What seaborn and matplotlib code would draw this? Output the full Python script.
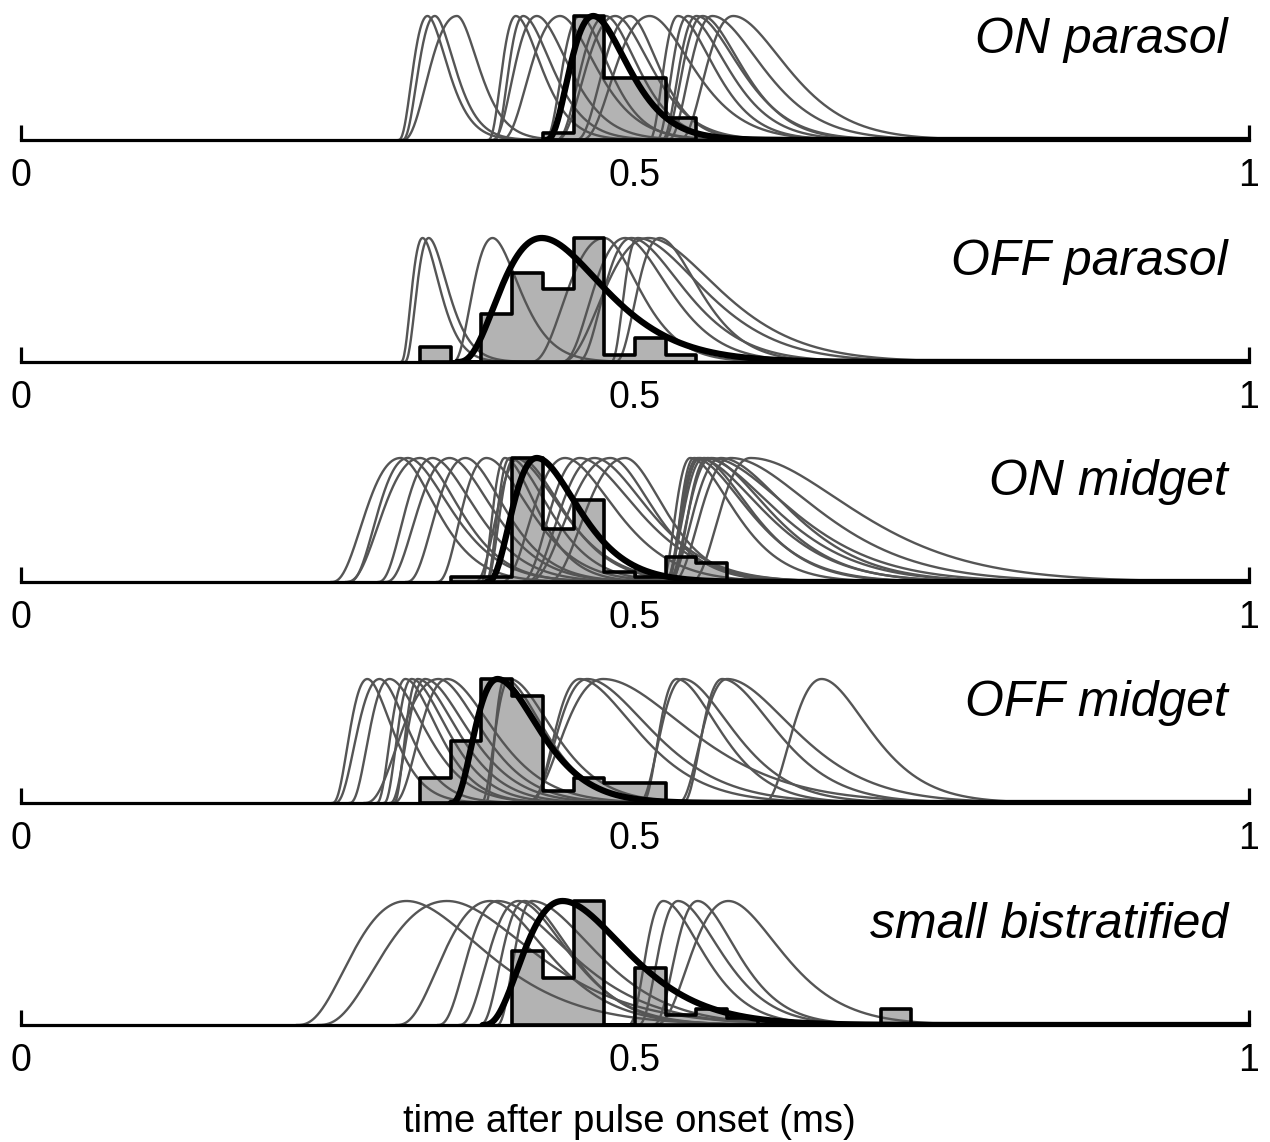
import numpy as np
import pandas as pd
import matplotlib
matplotlib.use('Agg')
import matplotlib.pyplot as plt
import seaborn as sns

# --- data (time in ms, curves normalised to peak 1) ---
cell_types = ["ON parasol", "OFF parasol", "ON midget", "OFF midget", "small bistratified"]

bin_width = 0.025

# histograms: left edge of first bin + normalised bin heights
on_parasol_hist_start = 0.425
on_parasol_hist = [0.056, 1.0, 0.5, 0.5, 0.18]
off_parasol_hist_start = 0.325
off_parasol_hist = [0.12, 0.0, 0.39, 0.72, 0.59, 1.0, 0.06, 0.19, 0.06]
on_midget_hist_start = 0.35
on_midget_hist = [0.04, 0.04, 1.0, 0.43, 0.66, 0.08, 0.04, 0.2, 0.15]
off_midget_hist_start = 0.325
off_midget_hist = [0.2, 0.5, 1.0, 0.86, 0.1, 0.2, 0.16, 0.16]
sbc_hist_start = 0.4
sbc_hist = [0.6, 0.38, 1.0, 0.0, 0.46, 0.08, 0.13, 0.06, 0.0, 0.0, 0.0, 0.0, 0.13]

# individual cells: peak time, rise time, decay width
on_parasol_peaks = [0.331, 0.337, 0.355, 0.403, 0.409, 0.420, 0.439, 0.455, 0.476,
                    0.484, 0.496, 0.512, 0.535, 0.543, 0.550, 0.555, 0.563, 0.580]
on_parasol_rises = [0.024, 0.027, 0.045, 0.023, 0.024, 0.037, 0.049, 0.029, 0.041,
                    0.049, 0.045, 0.057, 0.024, 0.026, 0.029, 0.033, 0.037, 0.045]
on_parasol_falls = [0.023, 0.023, 0.025, 0.029, 0.033, 0.037, 0.041, 0.033, 0.037,
                    0.041, 0.033, 0.049, 0.041, 0.045, 0.049, 0.045, 0.057, 0.061]

off_parasol_peaks = [0.327, 0.332, 0.384, 0.475, 0.492, 0.497, 0.502, 0.511, 0.520]
off_parasol_rises = [0.018, 0.020, 0.033, 0.061, 0.053, 0.045, 0.022, 0.073, 0.037]
off_parasol_falls = [0.020, 0.022, 0.031, 0.040, 0.050, 0.060, 0.075, 0.080, 0.045]

on_midget_peaks = [0.309, 0.315, 0.325, 0.335, 0.349, 0.362, 0.379, 0.394, 0.398,
                   0.402, 0.406, 0.443, 0.455, 0.467, 0.480, 0.492, 0.545, 0.548,
                   0.551, 0.553, 0.556, 0.559, 0.562, 0.570, 0.578, 0.594]
on_midget_rises = [0.057, 0.049, 0.061, 0.045, 0.053, 0.049, 0.041, 0.020, 0.020,
                   0.024, 0.037, 0.053, 0.049, 0.057, 0.069, 0.065, 0.024, 0.022,
                   0.027, 0.029, 0.033, 0.031, 0.037, 0.045, 0.049, 0.050]
on_midget_falls = [0.041, 0.049, 0.045, 0.049, 0.049, 0.045, 0.049, 0.037, 0.045,
                   0.053, 0.049, 0.057, 0.065, 0.061, 0.049, 0.045, 0.049, 0.061,
                   0.073, 0.057, 0.081, 0.069, 0.090, 0.077, 0.098, 0.116]

off_midget_peaks = [0.282, 0.292, 0.300, 0.313, 0.318, 0.323, 0.329, 0.340, 0.347, 0.394,
                    0.398, 0.455, 0.461, 0.474, 0.534, 0.539, 0.571, 0.575, 0.652]
off_midget_rises = [0.029, 0.037, 0.033, 0.024, 0.023, 0.020, 0.029, 0.061, 0.045, 0.016,
                    0.024, 0.041, 0.049, 0.065, 0.029, 0.037, 0.033, 0.041, 0.049]
off_midget_falls = [0.029, 0.033, 0.041, 0.037, 0.041, 0.045, 0.049, 0.049, 0.053, 0.045,
                    0.049, 0.065, 0.073, 0.098, 0.049, 0.057, 0.061, 0.077, 0.055]

sbc_peaks = [0.314, 0.347, 0.382, 0.388, 0.405, 0.410, 0.416, 0.523, 0.535, 0.551, 0.576]
sbc_rises = [0.090, 0.106, 0.077, 0.049, 0.049, 0.037, 0.029, 0.029, 0.033, 0.037, 0.061]
sbc_falls = [0.090, 0.098, 0.065, 0.081, 0.057, 0.053, 0.073, 0.045, 0.049, 0.045, 0.061]

# population fits: peak, rise, decay
on_parasol_fit = [0.466, 0.039, 0.040]
off_parasol_fit = [0.424, 0.069, 0.072]
on_midget_fit = [0.420, 0.041, 0.048]
off_midget_fit = [0.388, 0.038, 0.048]
sbc_fit = [0.441, 0.065, 0.074]

panels = [
    (cell_types[0], on_parasol_hist_start, on_parasol_hist, on_parasol_peaks, on_parasol_rises, on_parasol_falls, on_parasol_fit),
    (cell_types[1], off_parasol_hist_start, off_parasol_hist, off_parasol_peaks, off_parasol_rises, off_parasol_falls, off_parasol_fit),
    (cell_types[2], on_midget_hist_start, on_midget_hist, on_midget_peaks, on_midget_rises, on_midget_falls, on_midget_fit),
    (cell_types[3], off_midget_hist_start, off_midget_hist, off_midget_peaks, off_midget_rises, off_midget_falls, off_midget_fit),
    (cell_types[4], sbc_hist_start, sbc_hist, sbc_peaks, sbc_rises, sbc_falls, sbc_fit),
]


def bump(t, peak, rise, fall, k=3.0):
    # gamma-like pulse, separate widths before and after the peak
    w = np.where(t < peak, rise, fall)
    x = np.clip(1 + (t - peak) / w, 0, None)
    return x ** k * np.exp(k * (1 - x))


sns.set_style("white")
plt.rcParams['font.family'] = ['Liberation Sans', 'DejaVu Sans']
plt.rcParams['text.color'] = 'black'

W, H = 1270, 1142
baselines = [140, 362, 582, 803, 1025]
unit_px = 124
ymax = 1.06
t = np.linspace(0, 1, 2001)

fig = plt.figure(figsize=(W / 100, H / 100), dpi=100)

for i, (name, start, hist, peaks, rises, falls, fit) in enumerate(panels):
    b = baselines[i]
    ax = fig.add_axes([21 / W, (H - b) / H, 1228 / W, unit_px * ymax / H])
    ax.patch.set_alpha(0)

    n_bins = len(hist)
    hist_df = pd.DataFrame({"t": start + bin_width * (np.arange(n_bins) + 0.5), "h": hist})
    hrange = (start, start + bin_width * n_bins - 1e-9)

    # histogram fill below the cell curves
    sns.histplot(data=hist_df, x="t", weights="h", binwidth=bin_width, binrange=hrange,
                 element="step", fill=True, color="#b3b3b3", facecolor="#b3b3b3",
                 edgecolor="none", linewidth=0, alpha=1, ax=ax, zorder=1)

    rows = []
    for j, (p, r, f) in enumerate(zip(peaks, rises, falls)):
        m = t >= p - r
        rows.append(pd.DataFrame({"t": t[m], "y": bump(t[m], p, r, f), "cell": j}))
    curves = pd.concat(rows, ignore_index=True)
    sns.lineplot(data=curves, x="t", y="y", units="cell", estimator=None,
                 color="#555555", lw=1.7, ax=ax, zorder=2)

    # histogram outline on top
    sns.histplot(data=hist_df, x="t", weights="h", binwidth=bin_width, binrange=hrange,
                 element="step", fill=True, color="black", facecolor="none",
                 edgecolor="black", linewidth=2.6, alpha=1, ax=ax, zorder=3)

    fp, fr, ff = fit
    m = t >= fp - fr
    sns.lineplot(x=t[m], y=bump(t[m], fp, fr, ff), color="black", lw=4.5,
                 ax=ax, zorder=4)

    ax.set_xlim(0, 1)
    ax.set_ylim(0, ymax)
    ax.set_yticks([])
    ax.set_xticks([0, 0.5, 1])
    ax.set_xticklabels(["0", "0.5", "1"])
    ax.set_xlabel("")
    ax.set_ylabel("")
    for s in ["left", "top", "right"]:
        ax.spines[s].set_visible(False)
    ax.spines["bottom"].set_linewidth(2.3)
    ax.spines["bottom"].set_color("black")
    ax.tick_params(axis="x", bottom=True, direction="in", length=11, width=2.3,
                   labelsize=27, pad=13, colors="black")
    ax.text(0.983, 0.665, name, transform=ax.transAxes, ha="right", va="baseline",
            fontsize=36, style="italic", color="black")

fig.text(629 / W, 1 - 1122 / H, "time after pulse onset (ms)", ha="center",
         va="center", fontsize=27.5, color="black")

plt.savefig("out.png", dpi=100)
